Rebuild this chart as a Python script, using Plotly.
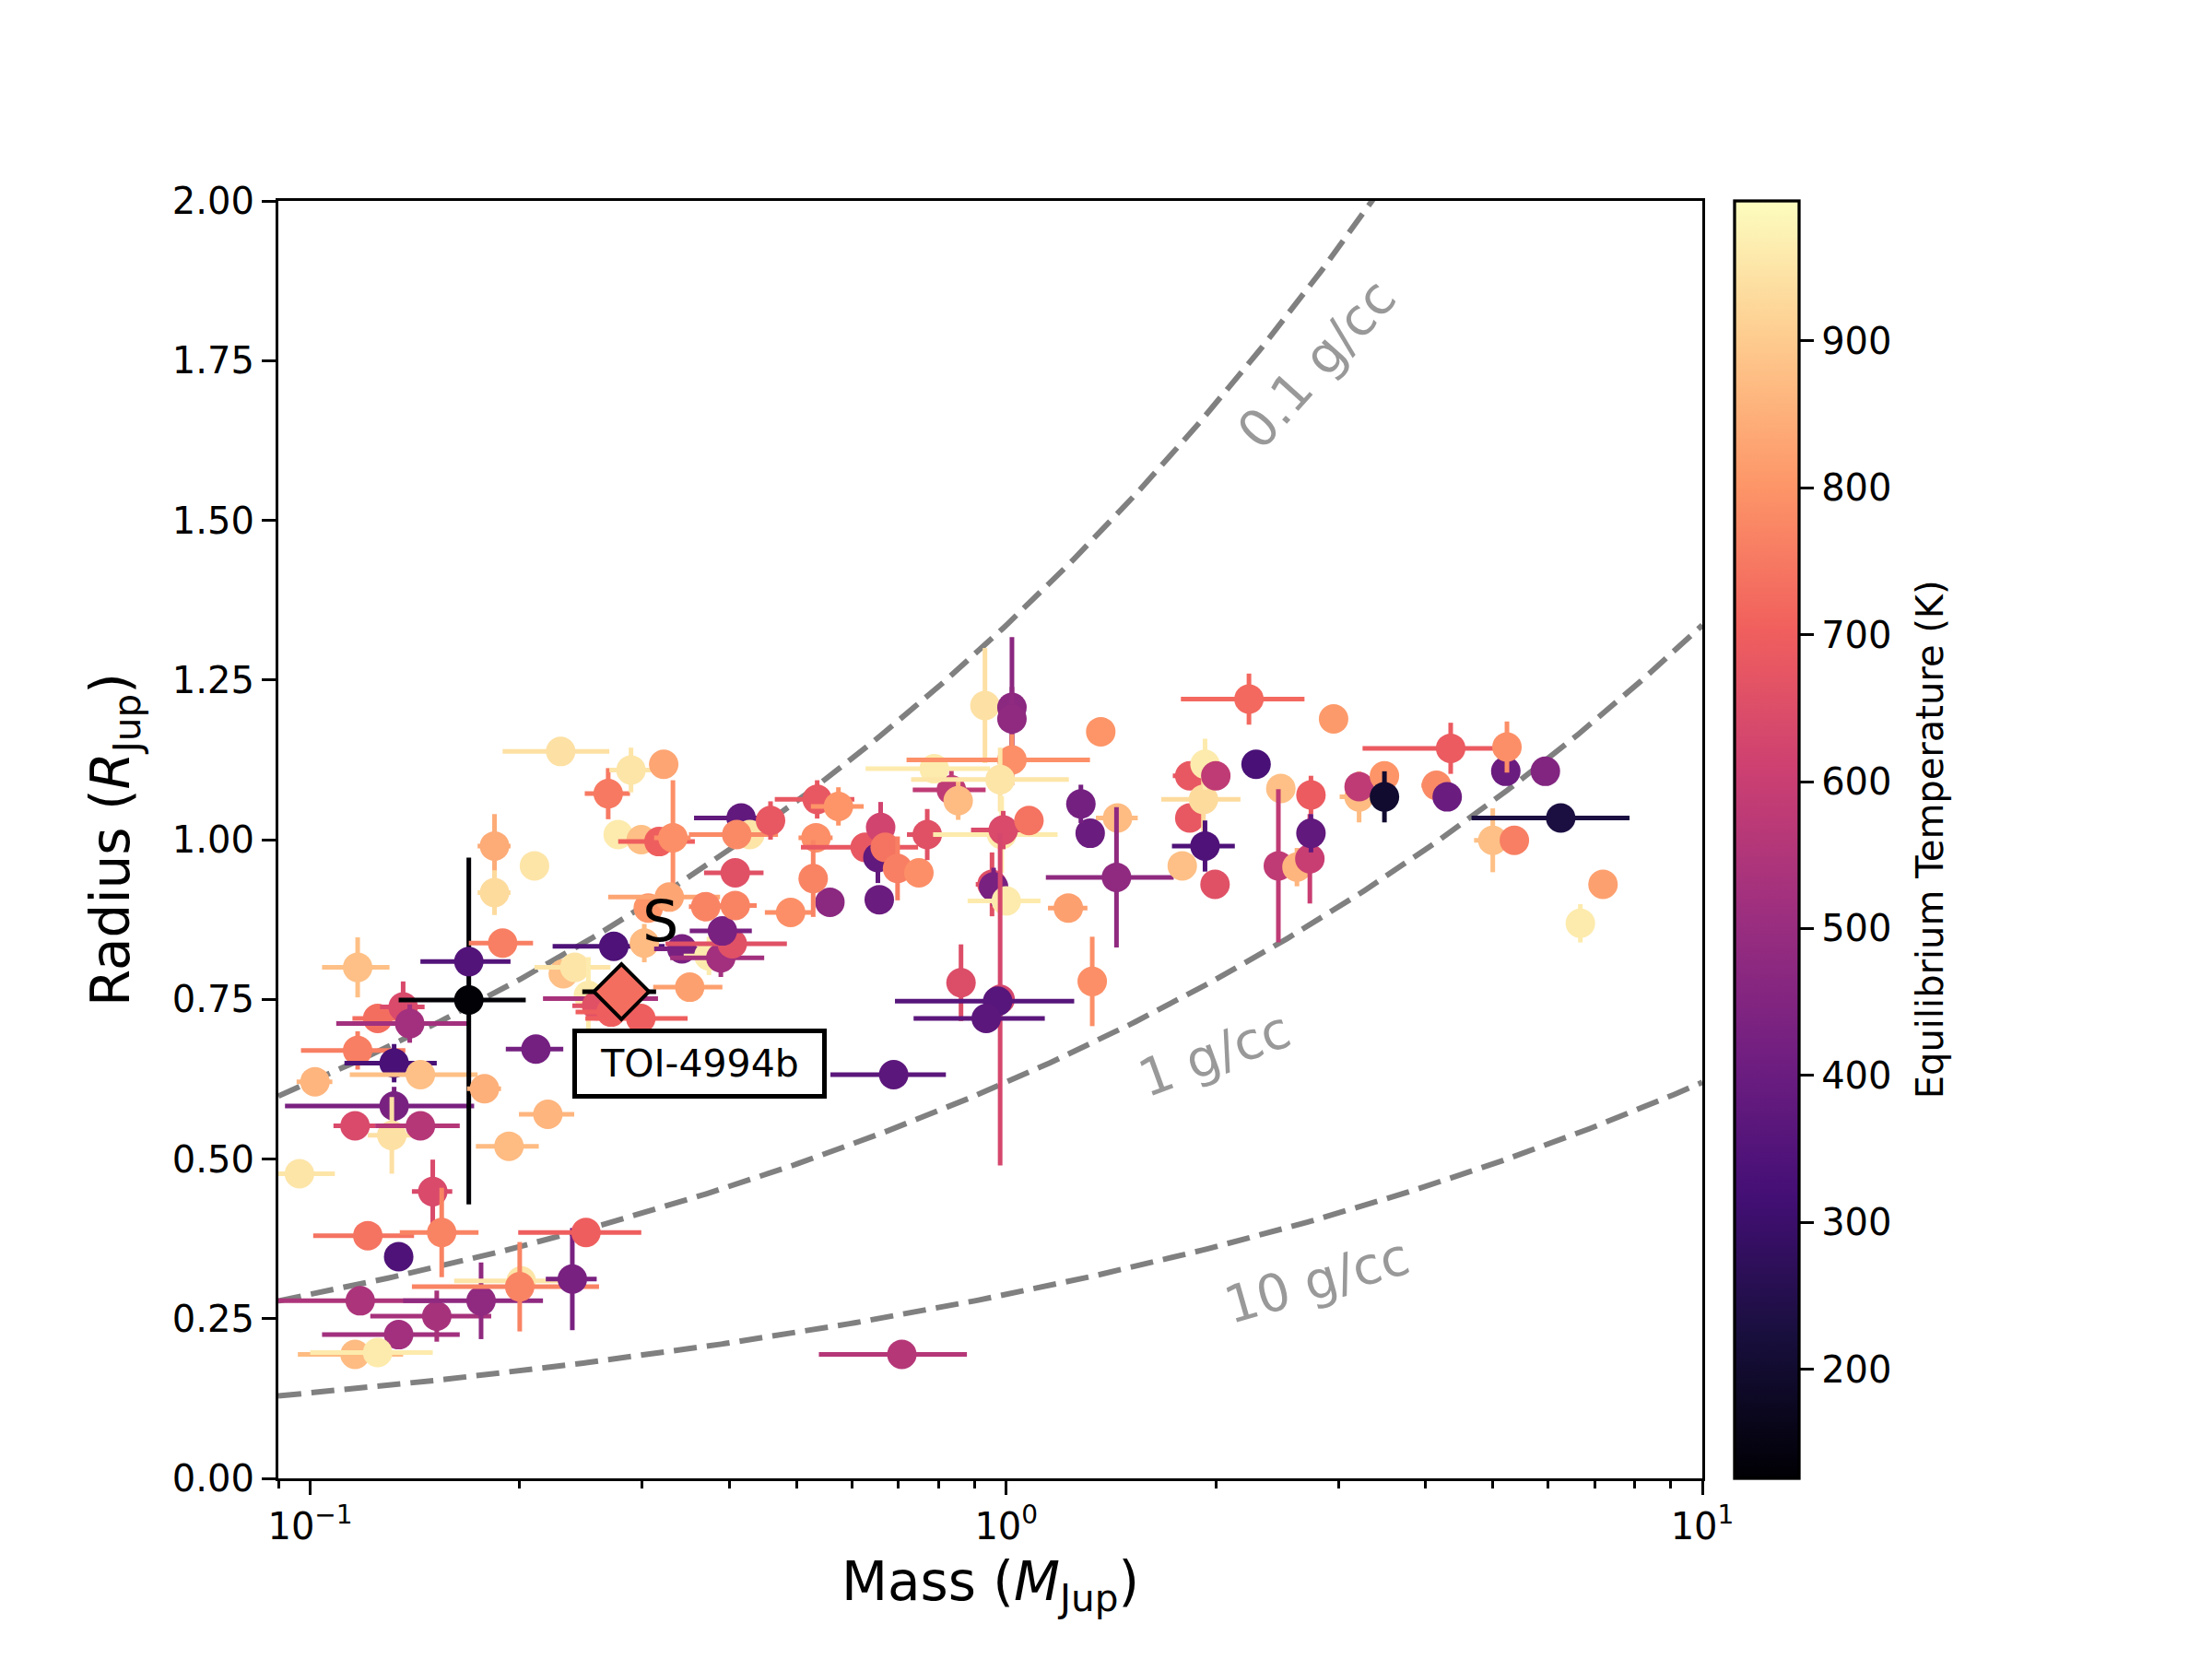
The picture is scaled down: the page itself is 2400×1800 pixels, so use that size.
import numpy as np
import plotly.graph_objects as go
from plotly.colors import sample_colorscale

# ---------------- data ----------------
mass = [
    0.1016, 0.117, 0.125, 0.117, 0.136, 0.139, 0.132, 0.144, 0.132, 0.116,
    0.131, 0.144, 0.0965, 0.150, 0.121, 0.1545, 0.134, 0.118, 0.134, 0.116,
    0.125, 0.152, 0.176, 0.201, 0.200, 0.238, 0.249, 0.169, 0.169, 0.189,
    0.184, 0.210, 0.184, 0.229, 0.268, 0.289, 0.322, 0.277, 0.299, 0.317,
    0.332, 0.178, 0.2195, 0.193, 0.211, 0.273, 0.231, 0.240, 0.251, 0.266,
    0.258, 0.2706, 0.2985, 0.302, 0.306, 0.328, 0.342, 0.351, 0.374, 0.389,
    0.404, 0.391, 0.370, 0.408, 0.408, 0.416, 0.428, 0.410, 0.4585, 0.535,
    0.574, 0.533, 0.490, 0.558, 0.528, 0.627, 0.654, 0.660, 0.670, 0.698,
    0.749, 0.657, 0.770, 0.834, 0.853, 0.788, 0.932, 1.019, 1.019, 1.019,
    0.980, 0.985, 0.990, 1.078, 0.954, 0.959, 1.000, 0.861, 0.980, 0.972,
    0.936, 0.689, 0.708, 1.228, 1.367, 1.445, 1.440, 1.329, 1.320, 1.280,
    1.790, 1.835, 1.835, 1.920, 1.930, 1.930, 2.000, 1.995, 2.285, 2.232,
    2.480, 2.460, 2.616, 2.730, 2.740, 2.740, 2.953, 3.213, 3.213, 3.494,
    3.494, 4.150, 4.350, 4.300, 5.000, 5.220, 5.240, 5.370, 5.950, 6.260,
    6.680, 7.200]

radius = [
    0.621, 0.800, 0.720, 0.670, 0.738, 0.712, 0.650, 0.632, 0.583, 0.552,
    0.537, 0.552, 0.477, 0.449, 0.380, 0.385, 0.347, 0.278, 0.225, 0.194,
    0.197, 0.254, 0.278, 0.309, 0.300, 0.312, 0.385, 0.749, 0.809, 0.838,
    0.990, 0.959, 0.917, 1.138, 1.072, 1.109, 1.118, 1.008, 1.000, 0.997,
    1.003, 0.610, 0.570, 0.520, 0.672, 0.833, 0.790, 0.800, 0.756, 0.751,
    0.740, 0.730, 0.720, 0.838, 0.893, 0.910, 0.829, 0.769, 0.818, 0.815,
    0.837, 0.857, 0.895, 0.897, 0.948, 1.034, 1.008, 1.008, 1.030, 1.063,
    1.052, 1.003, 0.886, 0.902, 0.939, 0.988, 0.972, 1.019, 0.988, 0.955,
    0.948, 0.906, 1.008, 1.078, 1.061, 1.111, 1.210, 1.207, 1.189, 1.125,
    1.094, 1.008, 1.015, 1.030, 0.930, 0.926, 0.904, 0.776, 0.750, 0.747,
    0.720, 0.632, 0.194, 0.893, 1.169, 1.034, 0.941, 0.778, 1.010, 1.056,
    0.959, 1.034, 1.100, 1.063, 0.990, 1.118, 1.100, 0.930, 1.118, 1.220,
    1.080, 0.959, 0.957, 0.970, 1.070, 1.010, 1.189, 1.067, 1.083, 1.100,
    1.067, 1.085, 1.143, 1.067, 0.999, 1.107, 1.145, 0.999, 1.107, 1.034,
    0.869, 0.930]

teq = [
    860, 880, 730, 760, 640, 520, 330, 880, 430, 640,
    940, 560, 950, 640, 740, 770, 340, 540, 520, 870,
    960, 530, 480, 950, 770, 430, 700, 130, 350, 760,
    840, 950, 930, 940, 750, 950, 830, 960, 880, 700,
    790, 850, 860, 870, 420, 340, 880, 950, 960, 530,
    660, 700, 700, 870, 800, 830, 430, 820, 960, 520,
    660, 430, 770, 770, 660, 380, 950, 780, 680, 680,
    800, 790, 790, 470, 770, 680, 380, 620, 740, 760,
    790, 400, 660, 580, 870, 960, 940, 470, 480, 790,
    950, 960, 640, 740, 660, 430, 960, 650, 630, 360,
    370, 370, 560, 820, 800, 870, 480, 790, 400, 420,
    880, 680, 680, 930, 340, 960, 580, 660, 330, 720,
    880, 580, 860, 600, 690, 380, 810, 870, 580, 800,
    200, 780, 690, 400, 880, 400, 790, 760, 450, 230,
    960, 820]

mass_err = [
    0.006, 0.013, 0.010, 0.020, 0.010, 0.030, 0.020, 0.030, 0.040, 0.008,
    0.010, 0.020, 0.012, 0.010, 0.020, 0.020, 0.003, 0.035, 0.030, 0.020,
    0.025, 0.030, 0.040, 0.040, 0.060, 0.020, 0.050, 0.035, 0.025, 0.020,
    0.010, 0.003, 0.010, 0.040, 0.020, 0.020, 0.010, 0.003, 0.003, 0.040,
    0.020, 0.010, 0.020, 0.020, 0.020, 0.050, 0.010, 0.030, 0.010, 0.050,
    0.020, 0.030, 0.050, 0.010, 0.010, 0.060, 0.030, 0.040, 0.030, 0.060,
    0.080, 0.040, 0.020, 0.030, 0.040, 0.060, 0.030, 0.060, 0.020, 0.070,
    0.050, 0.030, 0.040, 0.005, 0.020, 0.120, 0.020, 0.020, 0.030, 0.030,
    0.030, 0.005, 0.050, 0.100, 0.010, 0.160, 0.010, 0.010, 0.010, 0.300,
    0.250, 0.200, 0.100, 0.050, 0.050, 0.030, 0.120, 0.010, 0.010, 0.280,
    0.200, 0.130, 0.170, 0.080, 0.030, 0.100, 0.300, 0.020, 0.050, 0.020,
    0.050, 0.050, 0.100, 0.250, 0.200, 0.050, 0.050, 0.050, 0.020, 0.450,
    0.100, 0.050, 0.100, 0.050, 0.050, 0.050, 0.050, 0.200, 0.100, 0.050,
    0.100, 0.200, 1.100, 0.100, 0.300, 0.100, 0.100, 0.100, 0.100, 1.600,
    0.200, 0.050]

radius_err = [
    0.020, 0.047, 0.020, 0.030, 0.040, 0.030, 0.030, 0.020, 0.030, 0.020,
    0.060, 0.020, 0.015, 0.050, 0.010, 0.070, 0.005, 0.020, 0.020, 0.010,
    0.010, 0.040, 0.060, 0.020, 0.070, 0.080, 0.010, 0.223, 0.010, 0.010,
    0.050, 0.015, 0.035, 0.005, 0.040, 0.035, 0.005, 0.005, 0.005, 0.005,
    0.090, 0.015, 0.010, 0.005, 0.010, 0.005, 0.010, 0.010, 0.060, 0.010,
    0.010, 0.010, 0.010, 0.030, 0.010, 0.010, 0.020, 0.005, 0.030, 0.030,
    0.010, 0.010, 0.005, 0.010, 0.005, 0.005, 0.005, 0.005, 0.030, 0.030,
    0.030, 0.020, 0.005, 0.005, 0.060, 0.005, 0.040, 0.040, 0.010, 0.050,
    0.010, 0.005, 0.040, 0.030, 0.030, 0.010, 0.090, 0.110, 0.050, 0.040,
    0.050, 0.060, 0.030, 0.020, 0.050, 0.030, 0.020, 0.060, 0.260, 0.010,
    0.010, 0.005, 0.005, 0.020, 0.005, 0.010, 0.110, 0.070, 0.020, 0.030,
    0.020, 0.020, 0.020, 0.050, 0.040, 0.040, 0.020, 0.020, 0.010, 0.040,
    0.020, 0.120, 0.030, 0.070, 0.030, 0.030, 0.020, 0.040, 0.020, 0.020,
    0.040, 0.020, 0.040, 0.020, 0.050, 0.010, 0.040, 0.010, 0.020, 0.020,
    0.030, 0.010]

# lower radius errors (same as upper except the coolest planet)
radius_err_minus = list(radius_err)
radius_err_minus[27] = 0.320

# TOI-4994b
toi_mass, toi_mass_err = 0.280, 0.034
toi_radius, toi_radius_err = 0.762, 0.015
toi_teq = 730

# iso-density curves (g/cc) and their label positions
densities = [0.1, 1.0, 10.0]
density_labels = ["0.1 g/cc", "1 g/cc", "10 g/cc"]
label_mass = [2.795, 1.988, 2.795]
label_radius = [1.745, 0.664, 0.310]
label_angle = [-48, -20, -16]

t_min, t_max = 126, 995
cbar_ticks = [200, 300, 400, 500, 600, 700, 800, 900]
cbar_label = "Equilibrium Temperature (K)"
x_ticks = [0.1, 1, 10]
x_ticktext = ["10<sup>\u22121</sup>", "10<sup>0</sup>", "10<sup>1</sup>"]
y_ticks = [0, 0.25, 0.5, 0.75, 1.0, 1.25, 1.5, 1.75, 2.0]

FONT = "DejaVu Sans"


def tcolor(t):
    v = (t - t_min) / (t_max - t_min)
    v = min(max(v, 0.0), 1.0)
    return sample_colorscale("Magma", [v])[0]


fig = go.Figure()

# density curves
m_grid = np.logspace(np.log10(0.09), 1, 300)
for rho in densities:
    fig.add_trace(go.Scatter(
        x=m_grid, y=0.62 * (m_grid / rho) ** (1.0 / 3.0), mode="lines",
        line=dict(color="#808080", width=6, dash="25px,11px"),
        showlegend=False, hoverinfo="skip"))

# planets
for i in range(len(mass)):
    c = tcolor(teq[i])
    fig.add_trace(go.Scatter(
        x=[mass[i]], y=[radius[i]], mode="markers",
        marker=dict(size=32, color=c, line=dict(width=0)),
        error_x=dict(type="data", array=[mass_err[i]], color=c,
                     thickness=5, width=0),
        error_y=dict(type="data", array=[radius_err[i]],
                     arrayminus=[radius_err_minus[i]], symmetric=False,
                     color=c, thickness=5, width=0),
        showlegend=False))

# TOI-4994b
fig.add_trace(go.Scatter(
    x=[toi_mass], y=[toi_radius], mode="markers",
    marker=dict(symbol="diamond", size=46, color=tcolor(toi_teq),
                line=dict(color="black", width=4)),
    error_x=dict(type="data", array=[toi_mass_err], color="black",
                 thickness=5, width=0),
    error_y=dict(type="data", array=[toi_radius_err], color="black",
                 thickness=5, width=0),
    showlegend=False))

# colorbar carrier
fig.add_trace(go.Scatter(
    x=[None], y=[None], mode="markers", showlegend=False,
    marker=dict(color=[t_min, t_max], colorscale="Magma", cmin=t_min,
                cmax=t_max, showscale=True,
                colorbar=dict(
                    x=1.0227, xanchor="left", y=0.5, yanchor="middle",
                    len=1.0, lenmode="fraction", thickness=70,
                    xpad=0, ypad=0, outlinewidth=3.3, outlinecolor="black",
                    ticks="outside", ticklen=15, tickwidth=3.3,
                    tickcolor="black", tickvals=cbar_ticks,
                    tickfont=dict(family=FONT, size=40, color="black")))))

annotations = []
for lbl, lm, lr, ang in zip(density_labels, label_mass, label_radius,
                            label_angle):
    annotations.append(dict(
        x=np.log10(lm), y=lr, xref="x", yref="y", text=lbl,
        showarrow=False, textangle=ang,
        font=dict(family=FONT, size=56, color="#999999")))

annotations.append(dict(
    x=np.log10(0.318), y=0.873, xref="x", yref="y", text="S",
    showarrow=False, font=dict(family=FONT, size=62, color="black")))
annotations.append(dict(
    x=np.log10(0.363), y=0.649, xref="x", yref="y", text="TOI-4994b",
    showarrow=False, font=dict(family=FONT, size=41, color="black"),
    bgcolor="white", bordercolor="black", borderwidth=5, borderpad=8,
    width=250, height=50))
annotations.append(dict(
    x=1.160, y=0.5, xref="paper", yref="paper", text=cbar_label,
    showarrow=False, textangle=-90, xanchor="center", yanchor="middle",
    font=dict(family=FONT, size=40, color="black")))

fig.update_layout(
    width=2400, height=1800,
    margin=dict(l=294, r=561, t=210, b=204),
    paper_bgcolor="white", plot_bgcolor="white",
    font=dict(family=FONT, color="black"),
    annotations=annotations,
    xaxis=dict(
        type="log", range=[np.log10(0.09), 1.0],
        showgrid=False, zeroline=False,
        showline=True, linewidth=3.3, linecolor="black", mirror=True,
        ticks="outside", ticklen=15, tickwidth=3.3, tickcolor="black",
        tickvals=x_ticks, ticktext=x_ticktext,
        tickfont=dict(family=FONT, size=40),
        minor=dict(ticks="outside", ticklen=8, tickwidth=2.5,
                   tickcolor="black", showgrid=False,
                   tickvals=[0.09, 0.2, 0.3, 0.4, 0.5, 0.6, 0.7, 0.8, 0.9,
                             2, 3, 4, 5, 6, 7, 8, 9]),
        title=dict(text="Mass (<i>M</i><sub>Jup</sub>)",
                   font=dict(family=FONT, size=58), standoff=18)),
    yaxis=dict(
        range=[0, 2], showgrid=False, zeroline=False,
        showline=True, linewidth=3.3, linecolor="black", mirror=True,
        ticks="outside", ticklen=15, tickwidth=3.3, tickcolor="black",
        tickvals=y_ticks, ticktext=[f"{v:.2f}" for v in y_ticks],
        tickfont=dict(family=FONT, size=40),
        title=dict(text="Radius (<i>R</i><sub>Jup</sub>)",
                   font=dict(family=FONT, size=58), standoff=28)),
)

fig.write_html("out.html")
